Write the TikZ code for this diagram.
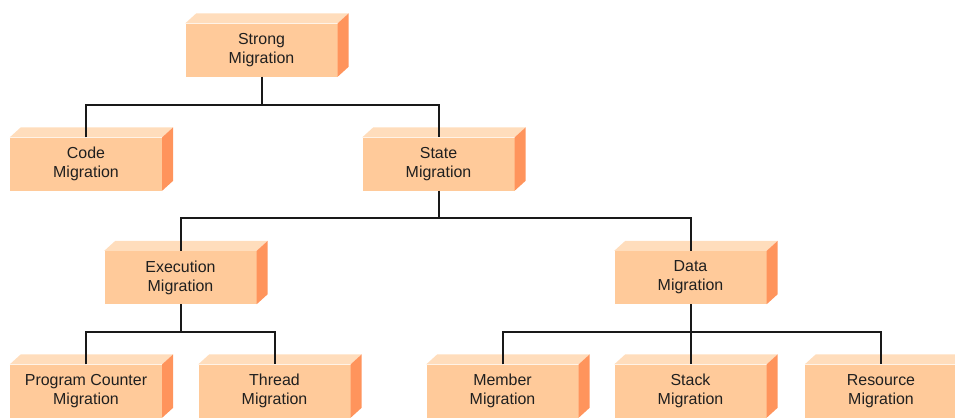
\documentclass[tikz,border=0pt]{standalone}
\usepackage{fontspec}
\setmainfont{Liberation Sans}
\definecolor{facec}{RGB}{255,202,154}
\definecolor{topc}{RGB}{255,221,188}
\definecolor{sidec}{RGB}{255,148,92}
\definecolor{linec}{RGB}{25,25,25}
\tikzset{
  blk/.style={rectangle, fill=facec, minimum width=152bp, minimum height=53bp,
    inner sep=0pt, align=center, text=black!88,
    font=\fontsize{16}{19}\selectfont},
  topface/.style={fill=topc},
  sideface/.style={fill=sidec},
  link/.style={draw=linec, line width=2bp, line join=miter},
}
% top and right faces of a block, 11 right and 10 up from the front face
\newcommand\blockfaces[1]{%
  \fill[topface] (#1.north west) -- ++(11,-10) -- ([shift={(11bp,10bp)}]#1.north east) -- (#1.north east) -- cycle;
  \fill[sideface] (#1.north east) -- ++(11,-10) -- ([shift={(11bp,10bp)}]#1.south east) -- (#1.south east) -- cycle;
}
\begin{document}
\begin{tikzpicture}[x=1bp, y=-1bp]
  \useasboundingbox (0,0) rectangle (955,417);

  \node[blk] (strong) at (261.5,50) {Strong\\Migration};
  \node[blk] (code)   at (86,164)   {Code\\Migration};
  \node[blk] (state)  at (438.5,164) {State\\Migration};
  \node[blk] (exec)   at (180.5,277.5) {Execution\\Migration};
  \node[blk] (data)   at (690.5,277.5) {Data\\Migration};
  \node[blk] (pc)     at (86,391)   {Program Counter\\Migration};
  \node[blk] (thread) at (274.5,391) {Thread\\Migration};
  \node[blk] (member) at (502.5,391) {Member\\Migration};
  \node[blk] (stack)  at (690.5,391) {Stack\\Migration};
  \node[blk] (res)    at (881,391)  {Resource\\Migration};

  \foreach \b in {strong,code,state,exec,data,pc,thread,member,stack,res}
    {\blockfaces{\b}}

  % tree connectors
  \draw[link] (strong.south) -- ++(0,28) coordinate (busA);
  \draw[link] (code.north) |- (busA) -| (state.north);

  \draw[link] (state.south) -- ++(0,27) coordinate (busB);
  \draw[link] (exec.north) |- (busB) -| (data.north);

  \draw[link] (exec.south) -- ++(0,28) coordinate (busC);
  \draw[link] (pc.north) |- (busC) -| (thread.north);

  \draw[link] (data.south) -- ++(0,28) coordinate (busD);
  \draw[link] (member.north) |- (busD) -| (res.north);
  \draw[link] (busD) -- (stack.north);
\end{tikzpicture}
\end{document}
